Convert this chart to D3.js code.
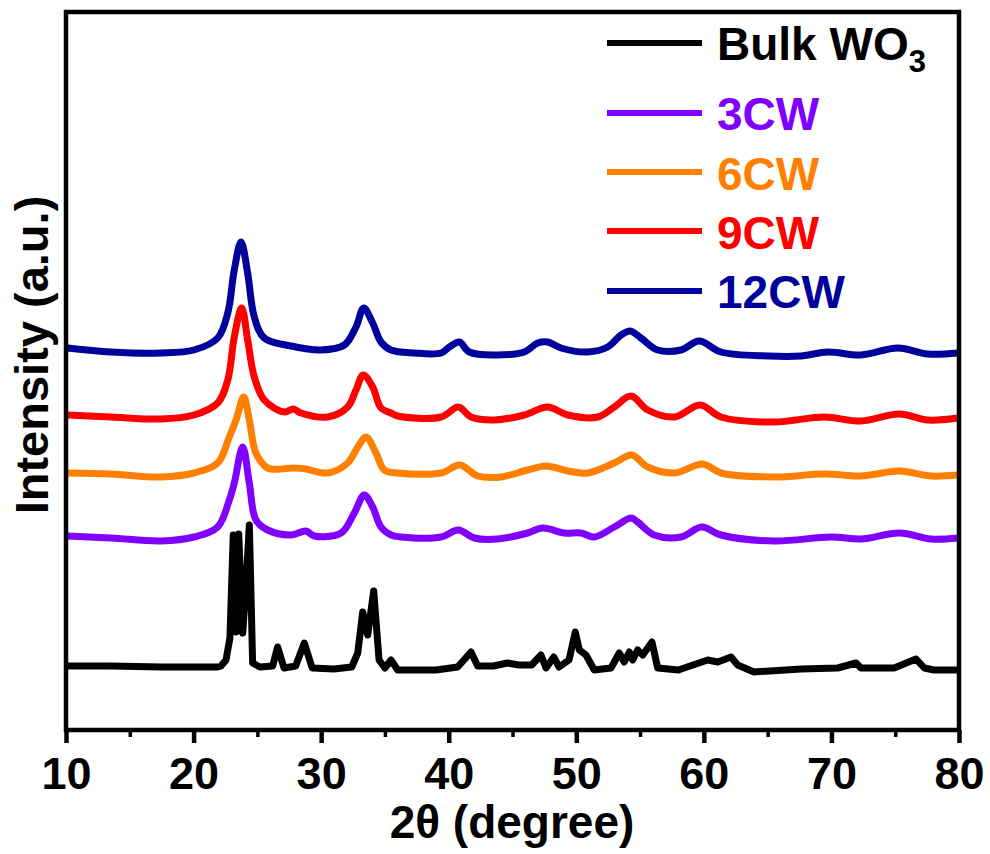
<!DOCTYPE html>
<html>
<head>
<meta charset="utf-8">
<script src="https://cdn.jsdelivr.net/npm/d3@7"></script>
<style>
  html, body { margin: 0; padding: 0; background: #fff; }
  svg { display: block; }
  text { font-family: "Liberation Sans", Arial, sans-serif; font-weight: bold; }
</style>
</head>
<body>
<svg id="chart" width="990" height="854"></svg>
<script>
// ---- data (2θ in degrees, intensity in arbitrary units) ----
const seriesNames = ["Bulk WO3", "3CW", "6CW", "9CW", "12CW"];
const seriesColors = ["#000000", "#7F00FF", "#FF8000", "#FF0000", "#00009C"];

const bulk = [[10.1,62],[13.5,62],[17.5,61],[20.0,61],[21.9,61],[22.15,62],[22.54,68],[22.85,90],[23.11,193],[23.33,96],[23.54,194],[23.85,95],[24.1,140],[24.37,203],[24.63,65],[25.2,61],[26.2,62],[26.59,81],[27.09,60],[28.0,62],[28.68,85],[29.3,60],[31.0,59],[32.4,61],[32.87,75],[33.26,116],[33.65,93],[34.12,137],[34.54,68],[35.0,60],[35.48,68],[36.0,58],[39.0,58],[40.7,61],[41.75,76],[42.27,62],[43.5,62],[44.6,65],[45.5,63],[46.5,63],[47.23,73],[47.63,60],[48.23,71],[48.65,61],[49.43,68],[49.92,96],[50.24,78],[50.76,73],[51.41,58],[52.72,60],[53.37,75],[53.76,66],[54.16,76],[54.42,68],[54.81,78],[55.21,73],[55.93,86],[56.38,60],[58.0,58],[60.3,68],[61.09,66],[62.13,71],[62.65,63],[63.93,56],[67.61,59],[70.49,60],[71.93,65],[72.32,60],[74.91,60],[76.63,69],[77.28,60],[78.04,58],[80,58]];

const cw3 = [[10.13,192],[13.53,190],[17.45,187],[20.03,191],[21.89,201],[22.8,228],[23.19,245],[23.85,281],[24.37,245],[24.89,208],[25.81,198],[27.64,193],[28.81,197],[29.46,192],[31.56,195],[32.6,215],[33.38,233],[34.04,221],[34.69,201],[35.48,193],[36.26,191],[39.4,191],[40.75,198],[42.01,190],[43.84,189],[46.19,195],[47.37,200],[49.06,195],[50.37,195],[51.41,191],[52.98,201],[54.29,210],[54.81,206],[56.11,193],[58.21,191],[59.83,201],[61.34,193],[65.52,187],[69.97,191],[72.32,189],[75.32,195],[77.81,189],[79.9,190]];

const cw6 = [[10.13,255],[13.53,254],[17.45,251],[20.03,255],[21.89,265],[22.8,291],[23.33,308],[23.93,331],[24.37,308],[24.89,275],[25.81,260],[27.9,260],[28.81,259],[30.51,255],[32.08,265],[32.87,281],[33.52,291],[34.3,275],[34.95,258],[36.0,255],[39.4,255],[40.88,263],[42.27,252],[44.1,251],[46.19,258],[47.63,262],[49.33,257],[50.89,255],[52.98,265],[54.34,273],[55.6,261],[57.68,255],[59.91,264],[61.34,255],[65.52,251],[69.44,254],[72.32,252],[75.32,257],[77.81,252],[79.9,253]];

const cw9 = [[10.13,313],[13.53,311],[17.45,309],[20.03,313],[21.89,325],[22.68,348],[23.19,391],[23.77,420],[24.24,388],[24.76,351],[25.54,328],[27.11,316],[27.82,319],[28.42,315],[30.51,311],[32.08,321],[32.73,338],[33.3,353],[34.04,341],[34.69,320],[35.48,315],[36.0,312],[39.4,311],[40.75,321],[41.75,311],[43.57,308],[45.93,313],[47.76,321],[49.33,313],[51.68,311],[52.98,321],[54.29,332],[55.6,318],[57.68,311],[59.72,323],[61.34,311],[65.52,306],[69.44,311],[72.32,307],[75.32,314],[77.55,308],[79.9,310]];

const cw12 = [[10.13,380],[13.53,376],[17.45,375],[20.03,378],[21.89,390],[22.68,415],[23.19,458],[23.72,486],[24.24,455],[24.76,411],[25.54,390],[27.64,382],[29.99,378],[31.82,383],[32.73,401],[33.34,420],[34.04,405],[34.69,386],[35.48,378],[37.3,375],[39.4,375],[40.05,381],[40.83,386],[41.61,376],[43.57,373],[45.93,376],[46.98,385],[47.76,386],[48.8,380],[50.89,376],[52.46,381],[53.51,393],[54.23,397],[55.07,390],[56.38,378],[58.21,378],[59.64,387],[61.34,376],[65.01,372],[67.61,372],[69.71,376],[72.32,373],[75.2,380],[77.55,374],[79.9,375]];

const xMajorTicks = [10, 20, 30, 40, 50, 60, 70, 80];
const xMinorTicks = [15, 25, 35, 45, 55, 65, 75];
const xTitle = "2θ (degree)";
const yTitle = "Intensity (a.u.)";

// ---- drawing ----
const svg = d3.select("#chart");
const L = 66, R = 959, T = 12, B = 730;

const x = d3.scaleLinear().domain([10, 80]).range([L, R]);
const y = d3.scaleLinear().domain([-2, 716]).range([B, T]);

const allSeries = [bulk, cw3, cw6, cw9, cw12];

const line = d3.line().x(d => x(d[0])).y(d => y(d[1]));
const smooth = d3.line().x(d => x(d[0])).y(d => y(d[1])).curve(d3.curveCatmullRom.alpha(0.5));

const plot = svg.append("g");
plot.append("clipPath").attr("id", "clip").append("rect")
  .attr("x", L).attr("y", T).attr("width", R - L).attr("height", B - T);

const lines = plot.append("g").attr("clip-path", "url(#clip)");
allSeries.forEach((s, i) => {
  lines.append("path")
    .datum(s)
    .attr("fill", "none")
    .attr("stroke", seriesColors[i])
    .attr("stroke-width", 7)
    .attr("stroke-linejoin", "round")
    .attr("stroke-linecap", "round")
    .attr("d", i === 0 ? line : smooth);
});

// frame
svg.append("rect")
  .attr("x", L).attr("y", T).attr("width", R - L).attr("height", B - T)
  .attr("fill", "none").attr("stroke", "#000").attr("stroke-width", 4.5);

// x axis
const xAxis = d3.axisBottom(x).tickValues(xMajorTicks).tickSize(13).tickPadding(14).tickFormat(d3.format("d"));
const gx = svg.append("g").attr("transform", `translate(0,${B})`).call(xAxis);
gx.select(".domain").remove();
gx.selectAll(".tick line").attr("stroke", "#000").attr("stroke-width", 4.5);
gx.selectAll(".tick text").attr("fill", "#000").style("font-size", "45px")
  .attr("font-family", "Liberation Sans, Arial, sans-serif").attr("font-weight", "bold");

const xMinor = d3.axisBottom(x).tickValues(xMinorTicks).tickSize(7).tickFormat("");
const gxm = svg.append("g").attr("transform", `translate(0,${B})`).call(xMinor);
gxm.select(".domain").remove();
gxm.selectAll(".tick line").attr("stroke", "#000").attr("stroke-width", 3.5);

// titles
svg.append("text")
  .attr("x", 512).attr("y", 838)
  .attr("text-anchor", "middle")
  .style("font-size", "46px")
  .text(xTitle);

svg.append("text")
  .attr("transform", `translate(48,355) rotate(-90)`)
  .attr("text-anchor", "middle")
  .style("font-size", "47px")
  .text(yTitle);

// legend
const legendY = [43, 113, 172, 231, 291];
const legendBase = [60, 130, 190, 249, 308];
const leg = svg.append("g");
seriesNames.forEach((name, i) => {
  leg.append("line")
    .attr("x1", 607).attr("x2", 702)
    .attr("y1", legendY[i]).attr("y2", legendY[i])
    .attr("stroke", seriesColors[i]).attr("stroke-width", 6);
  const t = leg.append("text")
    .attr("x", 717).attr("y", legendBase[i])
    .attr("fill", seriesColors[i])
    .style("font-size", "46px");
  if (name === "Bulk WO3") {
    t.append("tspan").text("Bulk WO");
    t.append("tspan").attr("dy", 12).style("font-size", "31px").text("3");
  } else {
    t.text(name);
  }
});
</script>
</body>
</html>
